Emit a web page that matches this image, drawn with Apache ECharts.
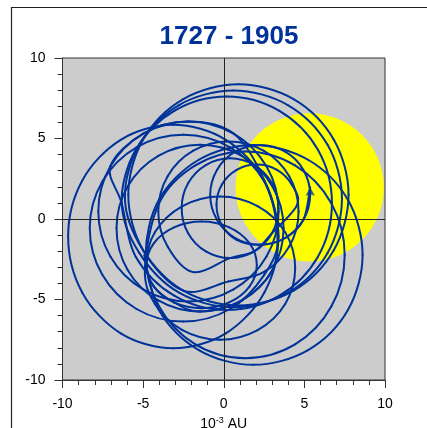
<!DOCTYPE html>
<html><head><meta charset="utf-8">
<script src="https://cdn.jsdelivr.net/npm/echarts@6/dist/echarts.min.js"></script>
<style>html,body{margin:0;padding:0;background:#fff;}#c{width:427px;height:428px;}</style>
</head><body><div id="c"></div>
<script>
const titleText = '1727 - 1905';
const axisName = '10{sup|-3} AU';
const axisMin = -10, axisMax = 10, axisStep = 5;
const sunCenter = [5.33, 1.96];
const sunRadius = 4.6;

// Path of the Sun's centre, read loop by loop from the picture (10^-3 AU)
const loop01 = [[-4.93,-2.23],[-4.02,-5.65],[-1.55,-8.14],[1.84,-9.06],[5.23,-8.14],[7.70,-5.65],[8.61,-2.23],[7.70,1.19],[5.23,3.68],[1.84,4.60],[-1.55,3.68],[-4.02,1.19]];
const loop02 = [[-4.84,-2.23],[-4.01,-5.44],[-1.76,-7.79],[1.33,-8.65],[4.42,-7.79],[6.67,-5.44],[7.50,-2.23],[6.67,0.98],[4.42,3.33],[1.33,4.19],[-1.76,3.33],[-4.01,0.98]];
const loop03 = [[-4.89,-3.05],[-4.27,-5.28],[-2.56,-6.90],[-0.23,-7.50],[2.10,-6.90],[3.81,-5.28],[4.43,-3.05],[3.81,-0.82],[2.10,0.80],[-0.23,1.40],[-2.56,0.80],[-4.27,-0.82]];
const loop04 = [[-4.79,-2.85],[-4.33,-4.20],[-3.08,-5.18],[-1.37,-5.54],[0.34,-5.18],[1.59,-4.20],[2.05,-2.85],[1.59,-1.50],[0.34,-0.52],[-1.37,-0.16],[-3.08,-0.52],[-4.33,-1.50],[-4.79,-2.85],[-4.33,-4.20],[-3.08,-5.18]];
const loop05 = [[-1.47,-5.75],[1.12,-5.06],[3.02,-3.16],[3.71,-0.57],[3.02,2.02],[1.12,3.92],[-1.47,4.61],[-4.06,3.92],[-5.96,2.02],[-6.65,-0.57],[-5.96,-3.16],[-4.06,-5.06],[-1.47,-5.75],[1.12,-5.06],[3.02,-3.16]];
const loop06 = [[3.29,-0.57],[2.51,2.33],[0.39,4.45],[-2.51,5.23],[-5.41,4.45],[-7.53,2.33],[-8.31,-0.57],[-7.53,-3.47],[-5.41,-5.59],[-2.51,-6.37],[0.39,-5.59],[2.51,-3.47]];
const loop07 = [[3.39,-1.09],[2.52,2.38],[0.13,4.92],[-3.13,5.85],[-6.39,4.92],[-8.78,2.38],[-9.65,-1.09],[-8.78,-4.56],[-6.39,-7.10],[-3.13,-8.03],[0.13,-7.10],[2.52,-4.56],[3.39,-1.09],[2.52,2.38]];
const loop08 = [[0.61,5.31],[-2.19,6.06],[-4.99,5.31],[-7.03,3.27],[-7.78,0.47],[-7.03,-2.33],[-4.99,-4.37],[-2.19,-5.12],[0.61,-4.37],[2.65,-2.33],[3.40,0.47],[2.65,3.27],[0.61,5.31],[-2.19,6.06],[-4.99,5.31],[-7.03,3.27]];
const loop09 = [[-6.33,0.98],[-5.46,-2.34],[-3.07,-4.76],[0.19,-5.65],[3.45,-4.76],[5.84,-2.34],[6.71,0.98],[5.84,4.30],[3.45,6.72],[0.19,7.61],[-3.07,6.72],[-5.46,4.30],[-6.33,0.98]];
const loop10 = [[-5.23,-2.12],[-2.77,-4.58],[0.60,-5.48],[3.97,-4.58],[6.43,-2.12],[7.33,1.25],[6.43,4.62],[3.97,7.08],[0.60,7.98],[-2.77,7.08],[-5.23,4.62],[-6.13,1.25]];
const loop11 = [[-5.00,-1.94],[-2.51,-4.45],[0.91,-5.37],[4.33,-4.45],[6.82,-1.94],[7.74,1.50],[6.82,4.94],[4.33,7.45],[0.91,8.37],[-2.51,7.45],[-5.00,4.94],[-5.92,1.50],[-5.00,-1.94],[-2.51,-4.45]];
const loop12 = [[0.29,-3.88],[2.47,-3.30],[4.06,-1.71],[4.64,0.47],[4.06,2.65],[2.47,4.24],[0.29,4.82],[-1.89,4.24],[-3.48,2.65],[-4.06,0.47],[-3.48,-1.71],[-1.89,-3.30]];
const loop13 = [[0.39,-2.43],[1.89,-2.01],[2.99,-0.88],[3.39,0.67],[2.99,2.22],[1.89,3.35],[0.39,3.77],[-1.11,3.35],[-2.21,2.22],[-2.61,0.67],[-2.21,-0.88],[-1.11,-2.01],[0.39,-2.43],[1.89,-2.01],[2.99,-0.88]];
const loop14 = [[4.55,0.88],[4.22,2.13],[3.30,3.05],[2.05,3.38],[0.80,3.05],[-0.12,2.13],[-0.45,0.88],[-0.12,-0.37],[0.80,-1.29]];
const loop15 = [[2.26,-1.60],[3.81,-1.18],[4.94,-0.05],[5.36,1.50],[4.94,3.05],[3.81,4.18],[2.26,4.60],[0.71,4.18],[-0.42,3.05],[-0.84,1.50],[-0.42,-0.05],[0.71,-1.18],[2.26,-1.60],[3.81,-1.18],[4.94,-0.05],[5.36,1.98]];
const endPoint = [[5.36, 1.98]];

const path = [].concat(loop01, loop02, loop03, loop04, loop05, loop06, loop07, loop08,
  loop09, loop10, loop11, loop12, loop13, loop14, loop15);

const FONT = 'Liberation Sans';
const BLUE = '#003399';

const axisCommon = {
  type: 'value', min: axisMin, max: axisMax, interval: axisStep,
  axisLine: { show: true, onZero: false, lineStyle: { color: '#333', width: 1 } },
  axisTick: { show: true, length: 8, lineStyle: { color: '#333' } },
  minorTick: { show: true, splitNumber: 5, length: 5, lineStyle: { color: '#333' } },
  splitLine: { show: false },
  minorSplitLine: { show: false },
  axisLabel: { fontSize: 14, color: '#000', fontFamily: FONT, margin: 17 }
};

// Catmull-Rom segment between path[i] and path[i+1], placed through the axes
function segment(params, api) {
  const i = params.dataIndex;
  if (i >= path.length - 1) return null;
  const p0 = api.coord(path[Math.max(i - 1, 0)]);
  const p1 = api.coord(path[i]);
  const p2 = api.coord(path[i + 1]);
  const p3 = api.coord(path[Math.min(i + 2, path.length - 1)]);
  return {
    type: 'bezierCurve',
    shape: {
      x1: p1[0], y1: p1[1], x2: p2[0], y2: p2[1],
      cpx1: p1[0] + (p2[0] - p0[0]) / 6, cpy1: p1[1] + (p2[1] - p0[1]) / 6,
      cpx2: p2[0] - (p3[0] - p1[0]) / 6, cpy2: p2[1] - (p3[1] - p1[1]) / 6
    },
    style: { stroke: BLUE, lineWidth: 2, fill: 'none', lineCap: 'round' }
  };
}

const chart = echarts.init(document.getElementById('c'), null, { renderer: 'canvas' });
chart.setOption({
  animation: false,
  backgroundColor: '#fff',
  title: {
    text: titleText, left: 224, top: 19, textAlign: 'center',
    textStyle: { fontSize: 26, fontWeight: 'bold', color: BLUE, fontFamily: FONT }
  },
  grid: {
    left: 62.5, right: 42, top: 58, bottom: 48,
    show: true, backgroundColor: '#cccccc', borderColor: '#333', borderWidth: 1,
    containLabel: false, outerBoundsMode: 'none'
  },
  xAxis: Object.assign({}, axisCommon, {
    position: 'bottom',
    name: axisName, nameLocation: 'middle', nameGap: 35,
    nameTextStyle: {
      fontSize: 14, color: '#000', fontFamily: FONT, lineHeight: 16,
      rich: { sup: { fontSize: 9, lineHeight: 10, verticalAlign: 'top', color: '#000', fontFamily: FONT } }
    }
  }),
  yAxis: Object.assign({}, axisCommon, { position: 'left' }),
  graphic: [
    { type: 'line', shape: { x1: 11, y1: 7.5, x2: 427, y2: 7.5 }, style: { stroke: '#222', lineWidth: 1.2 }, z: 100 },
    { type: 'line', shape: { x1: 11.5, y1: 7, x2: 11.5, y2: 428 }, style: { stroke: '#222', lineWidth: 1.2 }, z: 100 }
  ],
  series: [
    {
      type: 'custom', coordinateSystem: 'cartesian2d', z: 1, silent: true,
      data: [[sunCenter[0], sunCenter[1], sunRadius]],
      renderItem: function (params, api) {
        const c = api.coord([api.value(0), api.value(1)]);
        const s = api.size([api.value(2), api.value(2)]);
        return { type: 'circle', shape: { cx: c[0], cy: c[1], r: (s[0] + s[1]) / 2 }, style: { fill: '#ffff00' } };
      }
    },
    {
      type: 'line', data: [], z: 2, silent: true,
      markLine: {
        silent: true, symbol: ['none', 'none'], label: { show: false },
        lineStyle: { color: '#222', width: 1, type: 'solid' },
        emphasis: { disabled: true },
        data: [{ xAxis: 0 }, { yAxis: 0 }]
      }
    },
    {
      type: 'custom', coordinateSystem: 'cartesian2d', z: 3, silent: true,
      data: path, renderItem: segment
    },
    {
      type: 'scatter', data: endPoint, z: 4, symbol: 'arrow', symbolSize: [7, 9],
      itemStyle: { color: BLUE }, silent: true
    }
  ]
});
</script>
</body></html>
